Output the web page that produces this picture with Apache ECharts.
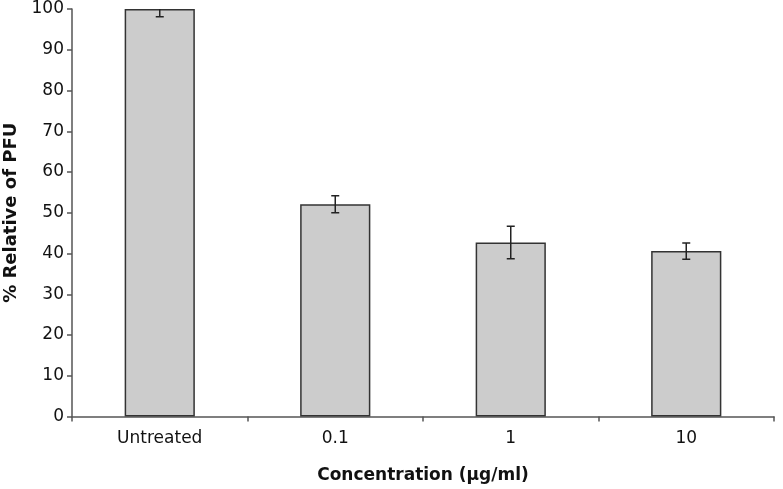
<!DOCTYPE html>
<html><head><meta charset="utf-8">
<script src="https://cdn.jsdelivr.net/npm/echarts@6/dist/echarts.min.js"></script>
<style>html,body{margin:0;padding:0;background:#fff}#c{width:783px;height:489px}</style>
</head><body><div id="c"></div>
<script>
var categories = ['Untreated', '0.1', '1', '10'];
var values = [100, 52.1, 42.7, 40.6];
var errors = [1.9, 2.1, 4.0, 2.0];
var yTicks = [0, 10, 20, 30, 40, 50, 60, 70, 80, 90, 100];

var errData = categories.map(function (c, i) { return [i, values[i] - errors[i], values[i] + errors[i]]; });
var font = '"DejaVu Sans", sans-serif';
var chart = echarts.init(document.getElementById('c'));
chart.setOption({
  animation: false,
  grid: { left: 72, right: 9, top: 9, bottom: 72.5, containLabel: false, outerBoundsMode: 'none' },
  xAxis: {
    type: 'category', data: categories, boundaryGap: true,
    axisLine: { lineStyle: { color: '#555', width: 1.5 } },
    axisTick: { show: true, length: 5, alignWithLabel: false, lineStyle: { color: '#555', width: 1.5 } },
    axisLabel: { color: '#111', fontSize: 17, fontFamily: font, margin: 14 },
    name: 'Concentration (μg/ml)', nameLocation: 'middle', nameGap: 51,
    nameTextStyle: { color: '#111', fontSize: 17, fontWeight: 'bold', fontFamily: font }
  },
  yAxis: {
    type: 'value', min: 0, max: 100, interval: 10,
    axisLine: { show: true, lineStyle: { color: '#555', width: 1.5 } },
    axisTick: { show: true, length: 5, lineStyle: { color: '#555', width: 1.5 } },
    splitLine: { show: false },
    axisLabel: { color: '#111', fontSize: 17, fontFamily: font, margin: 8,
      formatter: function (v) { return yTicks.indexOf(v) >= 0 ? String(v) : ''; } },
    name: '% Relative of PFU', nameLocation: 'middle', nameGap: 51, nameRotate: 90,
    nameTextStyle: { color: '#111', fontSize: 18, fontWeight: 'bold', fontFamily: font }
  },
  series: [
    { type: 'bar', data: values, barWidth: '40%',
      itemStyle: { color: '#cccccc', borderColor: '#333', borderWidth: 1.5 } },
    { type: 'custom', data: errData, z: 10, clip: true,
      renderItem: function (params, api) {
        var x = api.value(0);
        var lo = api.coord([x, api.value(1)]);
        var hi = api.coord([x, api.value(2)]);
        var w = 4;
        var st = { stroke: '#222', lineWidth: 1.5 };
        return { type: 'group', children: [
          { type: 'line', shape: { x1: lo[0], y1: lo[1], x2: hi[0], y2: hi[1] }, style: st },
          { type: 'line', shape: { x1: lo[0] - w, y1: lo[1], x2: lo[0] + w, y2: lo[1] }, style: st },
          { type: 'line', shape: { x1: hi[0] - w, y1: hi[1], x2: hi[0] + w, y2: hi[1] }, style: st }
        ] };
      }
    }
  ]
});
</script></body></html>
